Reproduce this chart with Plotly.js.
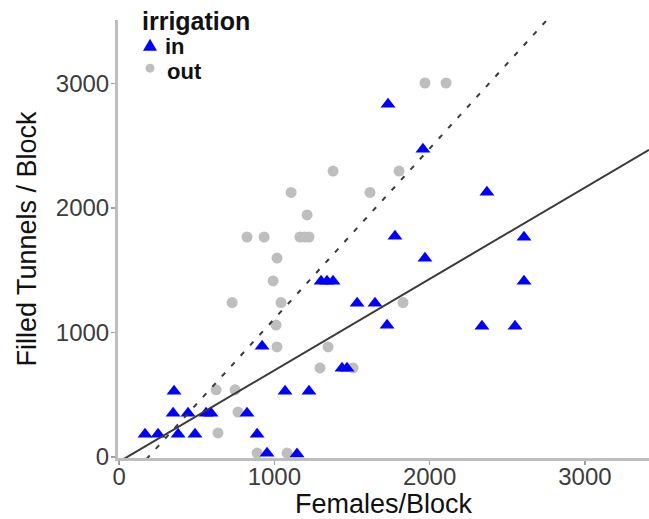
<!DOCTYPE html>
<html>
<head>
<meta charset="utf-8">
<script src="https://cdn.plot.ly/plotly-3.0.1.min.js"></script>
<style>html,body{margin:0;padding:0;background:#fff;}#chart{width:649px;height:519px;}</style>
</head>
<body>
<div id="chart"></div>
<script>
// irrigation = "in" (blue triangles)
var inX = [167, 251, 380, 489, 889, 348, 444, 560, 592, 824, 354, 1069, 1223, 953, 1146, 921, 1436, 1468, 1726, 1533, 1648, 1301, 1339, 1378, 1777, 1970, 1732, 1957, 2369, 2608, 2608, 2337, 2550];
var inY = [183, 183, 183, 183, 183, 351, 351, 351, 351, 351, 528, 528, 528, 30, 25, 890, 713, 713, 1058, 1235, 1235, 1412, 1412, 1412, 1773, 1596, 2833, 2472, 2127, 1765, 1412, 1050, 1050];
// irrigation = "out" (grey circles)
var outX = [1970, 2106, 1378, 1803, 1616, 1108, 1211, 824, 934, 1165, 1194, 1223, 1017, 992, 728, 1043, 1829, 1011, 1017, 1346, 1294, 1507, 625, 747, 766, 637, 889, 1082];
var outY = [3004, 3004, 2297, 2297, 2125, 2125, 1944, 1767, 1767, 1767, 1767, 1767, 1598, 1414, 1240, 1240, 1240, 1060, 884, 884, 715, 715, 540, 540, 361, 193, 32, 32];
// fitted lines: [slope, intercept]
var fitIn = [0.734, -38];
var fitOut = [1.367, -257];
var groupNames = ["in", "out"];
var legendTitle = "irrigation";
var xTitle = "Females/Block";
var yTitle = "Filled Tunnels / Block";
var tickVals = [0, 1000, 2000, 3000];
var xRange = [-7, 3413];
var yRange = [-8, 3510];

function fitLine(f) {
  return { x: [xRange[0], xRange[1]], y: [f[0] * xRange[0] + f[1], f[0] * xRange[1] + f[1]] };
}
var lIn = fitLine(fitIn), lOut = fitLine(fitOut);

var FONT = "Liberation Sans, Arial, sans-serif";
var traces = [
  { x: outX, y: outY, type: "scatter", mode: "markers", name: groupNames[1], showlegend: false,
    marker: { symbol: "circle", size: 11, color: "#bebebe" } },
  { x: inX, y: inY, type: "scatter", mode: "markers", name: groupNames[0], showlegend: false,
    marker: { symbol: "triangle-up", size: 13, color: "#0000ff" } },
  { x: lOut.x, y: lOut.y, type: "scatter", mode: "lines", showlegend: false, hoverinfo: "skip",
    line: { color: "#3a3a3a", width: 2, dash: "5px,9px" } },
  { x: lIn.x, y: lIn.y, type: "scatter", mode: "lines", showlegend: false, hoverinfo: "skip",
    line: { color: "#3a3a3a", width: 2 } }
];

var axisCommon = {
  showgrid: false, zeroline: false, showline: true, linecolor: "#bdbdbd", linewidth: 3,
  ticks: "outside", ticklen: 4, tickwidth: 1.5, tickcolor: "#a0a0a0",
  tickfont: { family: FONT, size: 24, color: "#3c3c3c" },
  tickmode: "array", tickvals: tickVals, ticktext: tickVals.map(String)
};

var layout = {
  width: 649, height: 519,
  margin: { l: 118, r: 0, t: 20, b: 61 },
  paper_bgcolor: "#ffffff", plot_bgcolor: "#ffffff",
  showlegend: false,
  xaxis: Object.assign({}, axisCommon, { range: xRange, ticklabelstandoff: -9,
    title: { text: xTitle, font: { family: FONT, size: 27, color: "#111" }, standoff: 1 } }),
  yaxis: Object.assign({}, axisCommon, { range: yRange, ticklabelstandoff: -3,
    title: { text: yTitle, font: { family: FONT, size: 27, color: "#111" }, standoff: 12 } }),
  shapes: [
    { type: "path", xref: "paper", yref: "paper", xsizemode: "pixel", ysizemode: "pixel",
      xanchor: 0.0603, yanchor: 0.939, path: "M-7,-4L7,-4L0,8Z",
      fillcolor: "#0000ff", line: { width: 0 } },
    { type: "circle", xref: "paper", yref: "paper", xsizemode: "pixel", ysizemode: "pixel",
      xanchor: 0.0603, yanchor: 0.890, x0: -4.5, x1: 4.5, y0: -4.5, y1: 4.5,
      fillcolor: "#bebebe", line: { width: 0 } }
  ],
  annotations: [
    { text: "<b>" + legendTitle + "</b>", xref: "paper", yref: "paper", x: 0.0414, y: 0.998,
      xanchor: "left", yanchor: "middle", showarrow: false, font: { family: FONT, size: 25, color: "#111" } },
    { text: "<b>" + groupNames[0] + "</b>", xref: "paper", yref: "paper", x: 0.0847, y: 0.9406,
      xanchor: "left", yanchor: "middle", showarrow: false,
      font: { family: FONT, size: 22, color: "#111" } },
    { text: "<b>" + groupNames[1] + "</b>", xref: "paper", yref: "paper", x: 0.0885, y: 0.8813,
      xanchor: "left", yanchor: "middle", showarrow: false,
      font: { family: FONT, size: 22, color: "#111" } }
  ]
};

Plotly.newPlot("chart", traces, layout, { staticPlot: true, displayModeBar: false });
</script>
</body>
</html>
